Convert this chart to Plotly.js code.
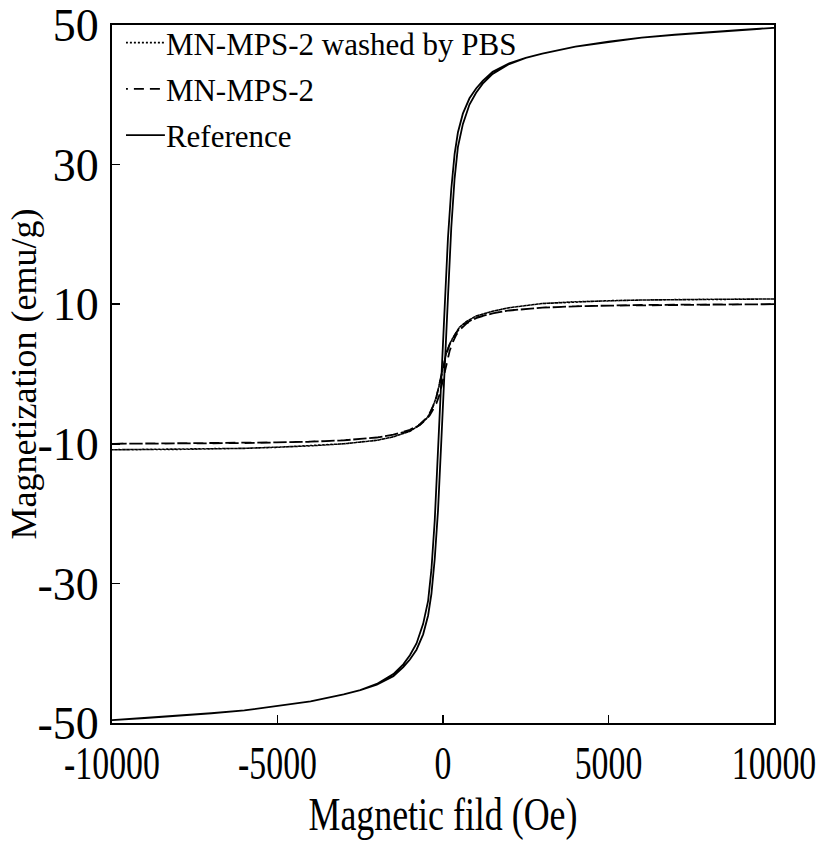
<!DOCTYPE html>
<html>
<head>
<meta charset="utf-8">
<script src="https://cdn.plot.ly/plotly-3.0.1.min.js"></script>
<style>
html,body{margin:0;padding:0;background:#fff;}
#chart{width:823px;height:844px;}
</style>
</head>
<body>
<div id="chart"></div>
<script>
// Reference sample: descending branch then ascending branch
const refDownH = [10000, 9000, 8000, 7000, 6000, 5000, 4000, 3000, 2500, 2000, 1500, 1200, 1000, 800, 600, 450, 350, 250, 150, 50, 0, -50, -100, -150, -250, -350, -450, -600, -800, -1000, -1200, -1500, -2000, -2500, -3000, -4000, -5000, -6000, -7000, -8000, -9000, -10000];
const refDownM = [49.6, 49.3, 49.0, 48.6, 48.2, 47.6, 46.9, 45.9, 45.3, 44.5, 43.3, 42.0, 40.9, 39.5, 37.3, 34.6, 31.5, 26.5, 19.5, 9.5, 4.0, -1.0, -6.0, -11.0, -21.0, -28.0, -32.5, -35.8, -38.6, -40.3, -41.6, -43.0, -44.4, -45.3, -45.9, -46.9, -47.6, -48.2, -48.6, -49.0, -49.3, -49.6];
const refUpH = [-10000, -9000, -8000, -7000, -6000, -5000, -4000, -3000, -2500, -2000, -1500, -1200, -1000, -800, -600, -450, -350, -250, -150, -50, 0, 50, 100, 150, 250, 350, 450, 600, 800, 1000, 1200, 1500, 2000, 2500, 3000, 4000, 5000, 6000, 7000, 8000, 9000, 10000];
const refUpM = [-49.6, -49.3, -49.0, -48.6, -48.2, -47.6, -46.9, -45.9, -45.3, -44.5, -43.3, -42.0, -40.9, -39.5, -37.3, -34.6, -31.5, -26.5, -19.5, -9.5, -4.0, 1.0, 6.0, 11.0, 21.0, 28.0, 32.5, 35.8, 38.6, 40.3, 41.6, 43.0, 44.4, 45.3, 45.9, 46.9, 47.6, 48.2, 48.6, 49.0, 49.3, 49.6];

// MN-MPS-2
const mpsDownH = [10000, 8000, 6000, 5000, 4000, 3000, 2000, 1500, 1000, 700, 500, 400, 300, 200, 100, 0, -100, -200, -300, -400, -500, -700, -1000, -1500, -2000, -3000, -4000, -5000, -6000, -8000, -10000];
const mpsDownM = [10.0, 9.95, 9.9, 9.8, 9.7, 9.5, 9.1, 8.7, 8.1, 7.3, 6.5, 5.9, 5.1, 4.2, 2.9, 0.9, -1.4, -3.3, -4.6, -5.6, -6.3, -7.2, -8.0, -8.7, -9.1, -9.5, -9.7, -9.8, -9.9, -9.95, -10.0];
const mpsUpH = [-10000, -8000, -6000, -5000, -4000, -3000, -2000, -1500, -1000, -700, -500, -400, -300, -200, -100, 0, 100, 200, 300, 400, 500, 700, 1000, 1500, 2000, 3000, 4000, 5000, 6000, 8000, 10000];
const mpsUpM = [-10.0, -9.95, -9.9, -9.8, -9.7, -9.5, -9.1, -8.7, -8.1, -7.3, -6.5, -5.9, -5.1, -4.2, -2.9, -0.9, 1.4, 3.3, 4.6, 5.6, 6.3, 7.2, 8.0, 8.7, 9.1, 9.5, 9.7, 9.8, 9.9, 9.95, 10.0];

// MN-MPS-2 washed by PBS
const pbsDownH = [10000, 8000, 6000, 5000, 4000, 3000, 2000, 1500, 1000, 700, 500, 400, 300, 200, 100, 0, -100, -200, -300, -400, -500, -700, -1000, -1500, -2000, -3000, -4000, -5000, -6000, -8000, -10000];
const pbsDownM = [10.75, 10.7, 10.6, 10.5, 10.35, 10.1, 9.5, 9.0, 8.3, 7.5, 6.7, 6.0, 5.2, 4.3, 3.0, 0.9, -1.4, -3.3, -4.6, -5.7, -6.4, -7.3, -8.2, -9.0, -9.5, -10.0, -10.3, -10.5, -10.65, -10.8, -10.85];
const pbsUpH = [-10000, -8000, -6000, -5000, -4000, -3000, -2000, -1500, -1000, -700, -500, -400, -300, -200, -100, 0, 100, 200, 300, 400, 500, 700, 1000, 1500, 2000, 3000, 4000, 5000, 6000, 8000, 10000];
const pbsUpM = [-10.85, -10.8, -10.65, -10.5, -10.3, -10.0, -9.5, -9.0, -8.2, -7.3, -6.4, -5.7, -4.6, -3.3, -1.4, 0.9, 3.0, 4.3, 5.2, 6.0, 6.7, 7.5, 8.3, 9.0, 9.5, 10.1, 10.35, 10.5, 10.6, 10.7, 10.75];

const seriesNames = ['MN-MPS-2 washed by PBS', 'MN-MPS-2', 'Reference'];
const xTickVals = [-10000, -5000, 0, 5000, 10000];
const xTickText = ['-10000', '-5000', '0', '5000', '10000'];
const yTickVals = [-50, -30, -10, 10, 30, 50];
const yTickText = ['-50', '-30', '-10', '10', '30', '50'];
const xTitle = 'Magnetic fild (Oe)';
const yTitle = 'Magnetization (emu/g)';

const FONT = 'Liberation Serif, Times New Roman, serif';

const traces = [
  {x: pbsDownH.concat(pbsUpH), y: pbsDownM.concat(pbsUpM), name: seriesNames[0], mode: 'lines',
   legendgroup: 'g1', line: {color: '#000', width: 1.6, dash: '2px,2px'}},
  {x: mpsDownH.concat(mpsUpH), y: mpsDownM.concat(mpsUpM), name: seriesNames[1], mode: 'lines',
   legendgroup: 'g2', line: {color: '#000', width: 1.8, dash: '10px,6px'}},
  {x: refDownH.concat(refUpH), y: refDownM.concat(refUpM), name: seriesNames[2], mode: 'lines',
   legendgroup: 'g3', line: {color: '#000', width: 1.8}}
];

const layout = {
  width: 823, height: 844,
  margin: {l: 112, r: 49, t: 25, b: 121},
  paper_bgcolor: '#fff', plot_bgcolor: '#fff',
  font: {family: FONT, color: '#000', size: 32},
  showlegend: true,
  legend: {x: 0.021, y: 1.013, xanchor: 'left', yanchor: 'top', bgcolor: 'rgba(0,0,0,0)',
           font: {family: FONT, size: 31, color: '#000'}, tracegroupgap: 3},
  xaxis: {
    range: [-10000, 10000], tickmode: 'array', tickvals: xTickVals, ticktext: xTickText,
    ticks: 'inside', ticklen: 8, tickwidth: 1.5, tickcolor: '#000',
    showline: true, linewidth: 2, linecolor: '#000', mirror: true,
    showgrid: false, zeroline: false, ticklabeloverflow: 'allow',
    tickfont: {family: FONT, size: 46, color: '#000'},
    ticklabelstandoff: 1,
    title: {text: xTitle, font: {family: FONT, size: 46, color: '#000'}, standoff: 4}
  },
  yaxis: {
    range: [-50, 50], tickmode: 'array', tickvals: yTickVals, ticktext: yTickText,
    ticks: 'inside', ticklen: 8, tickwidth: 1.5, tickcolor: '#000',
    showline: true, linewidth: 2, linecolor: '#000', mirror: true,
    showgrid: false, zeroline: false, ticklabeloverflow: 'allow',
    tickfont: {family: FONT, size: 46, color: '#000'},
    ticklabelstandoff: 2,
    title: {text: yTitle, font: {family: FONT, size: 36, color: '#000'}, standoff: 0}
  }
};

Plotly.newPlot('chart', traces, layout, {displayModeBar: false, staticPlot: true}).then(function () {
  // condensed lettering on the x axis texts, as in the reference
  const sxTick = 0.735, sxTitle = 0.78;
  document.querySelectorAll('#chart .xtick text').forEach(function (t) {
    const tr = t.getAttribute('transform') || '';
    const x = parseFloat(t.getAttribute('x') || '0');
    t.setAttribute('transform', tr + ' translate(' + x + ',-2) scale(' + sxTick + ',1) translate(' + (-x) + ',0)');
  });
  const xt = document.querySelector('#chart .xtitle');
  if (xt) {
    const cx = parseFloat(xt.getAttribute('x'));
    xt.setAttribute('transform', (xt.getAttribute('transform') || '') + ' translate(' + cx + ',-2) scale(' + sxTitle + ',1) translate(' + (-cx) + ',0)');
  }
  // y title sits over the tick labels, as in the reference
  const yt = document.querySelector('#chart .ytitle');
  if (yt) {
    const y = parseFloat(yt.getAttribute('y'));
    const nx = 30;
    yt.setAttribute('x', nx);
    yt.setAttribute('transform', 'rotate(-90,' + nx + ',' + y + ')');
  }
  // longer legend line samples, as in the reference
  document.querySelectorAll('#chart .legend .legendlines path').forEach(function (p) {
    p.setAttribute('d', 'M-8,0h47');
  });
});
</script>
</body>
</html>
